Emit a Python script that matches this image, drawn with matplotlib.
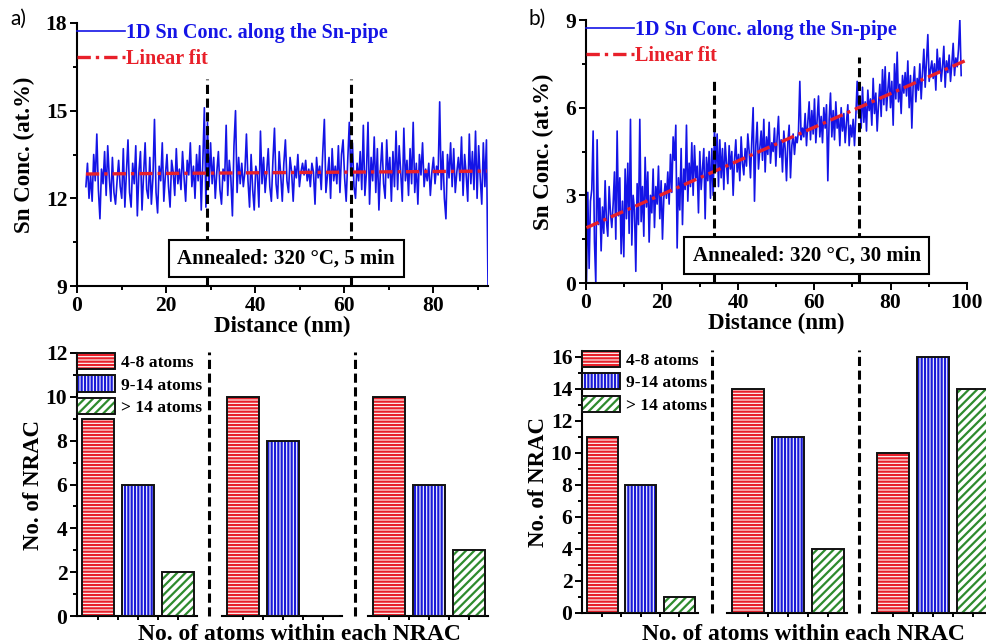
import numpy as np
import matplotlib.pyplot as plt
from matplotlib.patches import Patch
from matplotlib.lines import Line2D
from matplotlib.legend_handler import HandlerTuple
from matplotlib.ticker import MultipleLocator

plt.rcParams['font.family'] = 'Liberation Serif'
plt.rcParams['font.weight'] = 'bold'
plt.rcParams['axes.labelweight'] = 'bold'
plt.rcParams['hatch.linewidth'] = 1.6

# 1D Sn concentration profiles (at.%), sampled every 0.35 nm
conc_a_start, conc_a_step = 2.0, 0.35
conc_a = [
    12.4, 13.2, 12.0, 12.8, 11.9, 13.5, 12.6, 14.2, 12.3, 11.3, 13.0, 12.5, 13.6, 12.1, 13.8, 12.7, 11.9, 13.4, 12.2, 11.8,
    12.6, 13.3, 12.4, 12.0, 13.7, 11.7, 12.9, 14.0, 12.2, 11.7, 13.2, 12.5, 13.8, 11.4, 12.9, 13.6, 11.6, 12.8, 13.9, 12.3,
    12.0, 13.4, 11.8, 12.7, 14.7, 12.2, 11.5, 13.1, 12.6, 13.9, 11.9, 12.8, 13.5, 12.4, 11.7, 13.3, 12.9, 12.1, 13.7, 12.5,
    13.0, 12.3, 13.6, 12.7, 11.9, 13.3, 12.8, 13.9, 12.4, 13.1, 12.0, 13.5, 12.6, 13.8, 11.6, 13.2, 15.1, 11.7, 14.6, 12.4,
    13.9, 12.5, 13.4, 12.0, 12.9, 13.6, 12.3, 11.8, 13.0, 12.6, 14.5, 12.1, 13.3, 12.7, 11.4, 13.8, 15.0, 12.2, 13.4, 12.5,
    13.2, 12.4, 12.9, 14.2, 12.6, 11.7, 13.5, 12.3, 11.6, 13.1, 12.8, 11.7, 14.3, 12.5, 13.4, 12.2, 12.9, 13.7, 12.4, 11.9,
    13.3, 14.4, 12.5, 12.0, 13.6, 12.8, 11.9, 13.2, 14.0, 12.6, 12.2, 13.4, 12.9, 11.9, 13.1, 12.7, 13.5, 12.4, 12.9, 13.2,
    12.8, 13.3, 12.6, 13.0, 12.4, 13.2, 12.9, 11.8, 13.4, 12.7, 13.1, 12.3, 13.6, 14.7, 12.2, 12.8, 13.4, 12.0, 13.7, 12.6,
    13.1, 12.5, 13.8, 12.2, 13.5, 14.0, 12.7, 11.9, 13.3, 14.6, 12.8, 13.9, 12.4, 12.0, 13.2, 12.6, 13.6, 12.3, 14.5, 12.1,
    12.9, 14.6, 11.8, 13.4, 12.6, 14.1, 12.2, 13.7, 11.6, 13.0, 13.9, 12.5, 12.0, 14.0, 12.7, 13.4, 11.9, 13.6, 12.4, 14.3,
    12.3, 13.8, 12.9, 11.9, 14.4, 12.6, 13.3, 12.1, 13.7, 12.5, 14.6, 12.2, 13.2, 11.8, 13.5, 12.8, 13.9, 12.4, 13.0, 12.6,
    13.2, 12.1, 12.9, 13.4, 12.5, 13.1, 12.8, 15.3, 12.3, 13.6, 12.0, 11.3, 13.5, 12.7, 13.9, 12.4, 13.7, 12.2, 12.9, 13.4,
    12.6, 14.1, 12.1, 13.5, 12.8, 11.9, 14.2, 12.5, 13.6, 12.3, 14.3, 12.0, 13.8, 12.7, 11.8, 13.9, 12.4, 14.0,
    9.0,
]

conc_b_start, conc_b_step = 0.2, 0.35
conc_b = [
    0.0, 3.1, 0.5, 2.8, 3.2, 5.2, 1.4, 0.0, 4.9, 2.0, 2.9, 1.1, 2.6, 1.7, 3.5, 2.1, 1.6, 3.3, 2.4, 1.9,
    2.7, 3.8, 1.5, 5.2, 2.3, 3.6, 1.0, 2.8, 0.9, 3.9, 2.2, 4.1, 1.7, 5.6, 1.3, 3.0, 2.5, 0.4, 3.4, 2.0,
    5.6, 2.1, 3.3, 1.6, 4.3, 2.6, 3.8, 1.4, 3.0, 2.4, 3.9, 1.9, 3.3, 2.7, 4.0, 2.2, 3.5, 1.5, 2.9, 3.4,
    2.9, 3.8, 2.7, 4.4, 3.1, 5.0, 4.2, 5.4, 1.2, 3.6, 2.5, 4.6, 2.0, 3.9, 3.2, 5.4, 2.8, 4.1, 3.3, 4.8,
    3.0, 4.7, 3.6, 4.0, 2.4, 4.5, 3.2, 3.9, 4.6, 2.2, 4.3, 3.5, 4.5, 2.9, 4.6, 3.0, 5.3, 3.9, 5.1, 3.3,
    4.9, 3.6, 4.6, 3.2, 4.8, 4.1, 3.4, 4.7, 3.9, 4.5, 3.0, 4.2, 4.9, 3.8, 4.4, 3.5, 5.0, 4.1, 3.7, 4.6,
    4.0, 5.1, 4.5, 3.6, 4.9, 6.0, 2.8, 4.7, 5.5, 3.9, 4.6, 5.2, 4.2, 5.6, 3.8, 5.0, 4.4, 5.5, 4.1, 4.8,
    4.5, 5.3, 4.0, 5.0, 5.7, 4.3, 4.9, 3.8, 5.2, 4.6, 3.5, 4.8, 5.4, 3.6, 4.7, 5.1, 4.4, 5.0, 4.8, 5.2,
    6.9, 4.9, 5.3, 5.0, 5.8, 4.7, 5.5, 6.2, 4.9, 5.9, 5.1, 6.3, 4.8, 5.6, 6.4, 5.0, 5.7, 4.8, 6.0, 5.3,
    6.1, 3.5, 5.6, 6.5, 5.0, 5.9, 4.9, 6.2, 5.3, 5.7, 4.7, 6.0, 5.2, 5.8, 4.8, 5.5, 6.1, 4.7, 5.4, 5.0,
    5.6, 4.7, 5.7, 6.9, 5.8, 6.4, 5.3, 6.7, 5.5, 6.2, 5.2, 6.6, 5.9, 6.3, 5.4, 7.0, 5.8, 6.5, 5.2, 6.1,
    6.8, 5.7, 7.3, 6.1, 7.4, 5.9, 6.6, 7.2, 6.0, 6.9, 5.4, 7.5, 6.3, 7.9, 6.2, 6.8, 5.8, 7.1, 6.5, 7.2,
    6.4, 7.6, 6.0, 7.1, 5.3, 6.8, 7.4, 6.2, 7.0, 6.6, 7.5, 6.3, 7.2, 8.0, 6.7, 7.6, 8.5, 6.9, 7.3, 7.6,
    7.0, 7.5, 6.6, 8.0, 7.2, 7.7, 6.9, 7.4, 8.1, 6.7, 7.6, 7.2, 7.8, 6.9, 7.5, 8.2, 7.1, 7.7, 7.4, 8.0,
    9.0, 7.1,
]

# linear fits: slope (at.%/nm), intercept (at.%)
fit_a = [0.0011, 12.83]
fit_b = [0.0575, 1.88]

# region boundaries (nm) and how high the dashed markers reach (at.%)
bounds_a = [29.1, 61.6]
bounds_a_top = [16.1, 16.1]
bounds_b = [33.7, 71.7]
bounds_b_top = [7.05, 7.73]

# NRAC counts per region: [4-8 atoms, 9-14 atoms, >14 atoms]
size_labels = ['4-8 atoms', '9-14 atoms', '> 14 atoms']
nrac_a = [[9, 6, 2], [10, 8, 0], [10, 6, 3]]
nrac_b = [[11, 8, 1], [14, 11, 4], [10, 16, 14]]

blue = '#1414e6'
red = '#e8202a'
hatch_colors = ['#e8202a', '#1a1ad8', '#2e8b2e']
hatches = ['-----', '|||||', '////']

fig = plt.figure(figsize=(9.87, 6.44), dpi=100)


def px(x0, y0, x1, y1):
    # axes rect from pixel box (left, top, right, bottom)
    W, H = 987, 644
    return [x0 / W, 1 - y1 / H, (x1 - x0) / W, (y1 - y0) / H]


def style(ax, left=True):
    for s in ['top', 'right']:
        ax.spines[s].set_visible(False)
    ax.spines['bottom'].set_linewidth(1.5)
    ax.spines['left'].set_linewidth(1.5)
    if not left:
        ax.spines['left'].set_visible(False)
    ax.tick_params(which='both', direction='out', width=1.4, labelsize=15.5, pad=2)
    ax.tick_params(which='major', length=5)
    ax.tick_params(which='minor', length=3)


def profile(ax, start, step, conc, fit, fit_x1, bounds, tops, text, text_x, xlim, ylim):
    x = start + step * np.arange(len(conc))
    ax.plot(x, conc, color=blue, lw=1.2, label='1D Sn Conc. along the Sn-pipe', zorder=2)
    fx = np.array([x[0], fit_x1])
    ax.plot(fx, fit[0] * fx + fit[1], color=red, lw=2.4, ls=(0, (4, 1.5, 1, 1.5)),
            label='Linear fit', zorder=3)
    ax.vlines(bounds, ylim[0], tops, colors='k', lw=2.2, linestyles=(0, (3, 1.5)), zorder=4)
    ax.set_xlim(*xlim)
    ax.set_ylim(*ylim)
    ax.xaxis.set_major_locator(MultipleLocator(20))
    ax.xaxis.set_minor_locator(MultipleLocator(10))
    ax.yaxis.set_major_locator(MultipleLocator(3))
    ax.yaxis.set_minor_locator(MultipleLocator(1.5))
    style(ax)
    ax.set_xlabel('Distance (nm)', fontsize=16.5, labelpad=0)
    ax.set_ylabel('Sn Conc. (at.%)', fontsize=16.5, labelpad=8)
    ax.legend(loc='upper left', bbox_to_anchor=(0, 1.0), frameon=False, fontsize=14.5,
              handlelength=2.4, handletextpad=0.05, borderaxespad=0, borderpad=0,
              labelspacing=0.3, labelcolor='linecolor')
    ax.text(text_x, ylim[0] + 0.105 * (ylim[1] - ylim[0]), text,
            fontsize=15, ha='center', va='center',
            bbox=dict(boxstyle='square,pad=0.42', fc='white', ec='k', lw=1.5), zorder=5)


ax_a = fig.add_axes(px(77, 23, 488, 286))
profile(ax_a, conc_a_start, conc_a_step, conc_a, fit_a, 92.0, bounds_a, bounds_a_top,
        'Annealed: 320 °C, 5 min', 47, (0, 92.3), (9, 18))

ax_b = fig.add_axes(px(585.7, 20, 966.7, 283))
profile(ax_b, conc_b_start, conc_b_step, conc_b, fit_b, 100.0, bounds_b, bounds_b_top,
        'Annealed: 320 °C, 30 min', 58, (0, 100), (0, 9))


def draw_bars(rects, counts, ylim, sep_y):
    axes = []
    for g, r in enumerate(rects):
        ax = fig.add_axes(px(*r))
        pos = np.arange(3)
        for i in range(3):
            ax.bar(pos[i], counts[g][i], width=0.8, color='white', edgecolor=hatch_colors[i],
                   hatch=hatches[i], lw=0, zorder=2)
            ax.bar(pos[i], counts[g][i], width=0.8, fill=False, edgecolor='#111111', lw=1.4, zorder=3)
        ax.set_xlim(-0.52, 2.48)
        ax.set_ylim(*ylim)
        ax.set_xticks(pos)
        ax.set_xticks([0.5, 1.5], minor=True)
        ax.set_xticklabels([])
        ax.yaxis.set_major_locator(MultipleLocator(2))
        ax.yaxis.set_minor_locator(MultipleLocator(1))
        style(ax, left=(g == 0))
        ax.tick_params(axis='x', which='both', length=3)
        if g > 0:
            ax.set_yticks([])
            ax.set_yticks([], minor=True)
        axes.append(ax)
    # dashed separators between the regions
    for g in range(len(rects) - 1):
        xm = 0.5 * (rects[g][2] + rects[g + 1][0]) / 987
        fig.add_artist(Line2D([xm, xm], [1 - sep_y[1] / 644, 1 - sep_y[0] / 644], color='k', lw=2.2,
                              ls=(0, (3, 1.5)), transform=fig.transFigure))
    handles = []
    for i in range(3):
        handles.append((Patch(facecolor='white', edgecolor=hatch_colors[i], hatch=hatches[i], lw=0),
                        Patch(fill=False, edgecolor='#111111', lw=1.4)))
    axes[0].legend(handles, size_labels, handler_map={tuple: HandlerTuple(ndivide=1, pad=0)},
                   loc='upper left', bbox_to_anchor=(0, 1.0), frameon=False, fontsize=12.6,
                   handlelength=2.15, handleheight=1.05, handletextpad=0.35, borderaxespad=0,
                   borderpad=0, labelspacing=0.25)
    axes[0].set_ylabel('No. of NRAC', fontsize=16.5, labelpad=1)
    return axes


bars_a = draw_bars([(77, 353, 197, 616), (222, 353, 342, 616), (368, 353, 488, 616)],
                   nrac_a, (0, 12), (352, 616))
bars_b = draw_bars([(582, 350.6, 698, 613), (727, 350.6, 847, 613), (872, 350.6, 992, 613)],
                   nrac_b, (0, 16.4), (350, 613))

fig.text(299 / 987, 4 / 644, 'No. of atoms within each NRAC', fontsize=17, ha='center', va='baseline')
fig.text(803 / 987, 4 / 644, 'No. of atoms within each NRAC', fontsize=17, ha='center', va='baseline')

fig.text(10 / 987, 1 - 19 / 644, 'a)', fontsize=15, family='Lato', weight='normal', va='center')
fig.text(529 / 987, 1 - 19 / 644, 'b)', fontsize=15, family='Lato', weight='normal', va='center')

fig.savefig('out.png', dpi=100)
